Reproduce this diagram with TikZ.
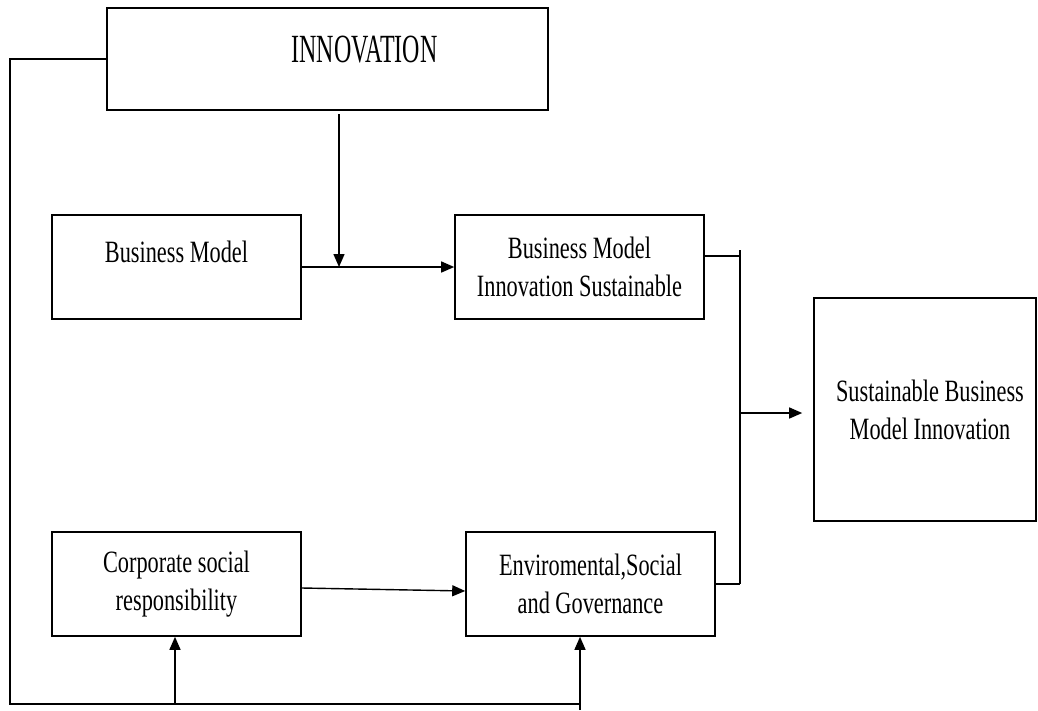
\documentclass[tikz,border=0pt]{standalone}
\usepackage{fontspec}
\setmainfont[FakeStretch=0.72]{Liberation Serif}
\newfontfamily\innofont[FakeStretch=0.6]{Liberation Serif}
\usetikzlibrary{arrows.meta,calc}
\begin{document}
\begin{tikzpicture}[x=1pt,y=-1pt,
  box/.style={draw, line width=1.6pt, inner sep=0pt, font=\fontsize{31}{38}\selectfont},
  multi/.style={box, align=center},
  conn/.style={line width=1.4pt},
  arr/.style={conn, -{Triangle[length=13pt,width=11pt]}}]
\useasboundingbox (0,0) rectangle (1038,710);
% boxes
\node[box, minimum width=441pt, minimum height=102pt, font=\innofont\fontsize{40}{48}\selectfont,
      text height=27pt, text depth=21pt] (inno) at (327.5,59) {\hspace*{74pt}INNOVATION};
\node[box, minimum width=249pt, minimum height=104pt, text height=21pt, text depth=31pt]
      (bm) at (176.5,267) {Business Model};
\node[multi, minimum width=249pt, minimum height=104pt] (bmis) at (579.5,267)
      {Business Model\\Innovation Sustainable};
\node[multi, minimum width=222pt, minimum height=223pt] (sbmi) at (925,409.5)
      {\hspace*{10pt}Sustainable Business\\\hspace*{10pt}Model Innovation};
\node[multi, minimum width=249pt, minimum height=104pt] (csr) at (176.5,584)
      {Corporate social\\responsibility};
\node[multi, minimum width=249pt, minimum height=104pt] (esg) at (590.5,584)
      {Enviromental,Social\\and Governance};
% feedback loop from INNOVATION
\coordinate (tl) at (10,59);
\coordinate (bl) at (10,704);
\coordinate (br) at (580,704);
\draw[conn] (inno.west) -- (tl) -- (bl) -- (br);
\coordinate (c1) at (175,704);
\draw[arr] (c1) -- (c1 |- csr.south);
\coordinate (e1) at (580,710);
\draw[arr] (e1) -- (e1 |- esg.south);
% INNOVATION down to the business model line
\coordinate (i1) at (339,114);
\coordinate (j) at (339,267);
\draw[arr] (i1) -- (j);
\draw[arr] (bm.east) -- (bmis.west);
% merging bracket
\coordinate (v1) at (740,256);
\coordinate (vt) at (740,250);
\coordinate (vb) at (740,584);
\coordinate (vm) at (740,413);
\draw[conn] (v1 -| bmis.east) -- (v1);
\draw[conn] (vt) -- (vb);
\draw[conn] (esg.east) -- (vb);
\draw[arr] (vm) -- ($(vm -| sbmi.west)+(-11,0)$);
% CSR to ESG
\draw[arr] ($(csr.east)+(0,4)$) -- ($(esg.west)+(0,7)$);
\end{tikzpicture}
\end{document}
